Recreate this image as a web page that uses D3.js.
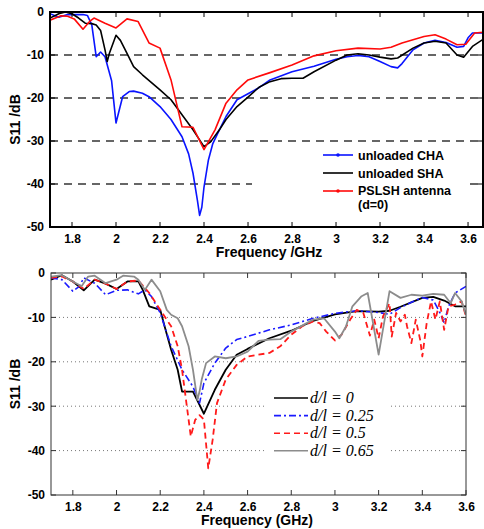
<!DOCTYPE html>
<html>
<head>
  <meta charset="utf-8">
  <script src="https://d3js.org/d3.v7.min.js"></script>
  <style>
    body { margin: 0; background: #fff; }
  </style>
</head>
<body>
<script>
// ---- top chart data (GHz, dB) ----
var chaFreq = [1.70,1.74,1.78,1.85,1.87,1.89,1.91,1.93,1.95,1.98,2.00,2.03,2.06,2.08,2.12,2.15,2.20,2.25,2.30,2.33,2.35,2.37,2.38,2.39,2.40,2.42,2.44,2.47,2.50,2.55,2.60,2.65,2.70,2.80,2.90,3.00,3.05,3.10,3.15,3.20,3.25,3.28,3.30,3.35,3.40,3.45,3.50,3.55,3.58,3.60,3.62,3.67];
var chaS11  = [-0.4,-1.2,-0.6,-0.6,-0.8,-3,-10.4,-9.3,-10.4,-16,-25.8,-19.7,-18.5,-18.4,-18.9,-19.7,-22,-25,-29,-33,-37.5,-43.8,-47.3,-45.4,-40.7,-34.4,-30.6,-27.4,-24.3,-20.4,-19,-17.6,-15.8,-13.9,-12.6,-11,-10.4,-10.1,-10.4,-11.5,-12.7,-13,-12,-8.8,-7.2,-6.6,-7.1,-8.2,-8,-6,-4.9,-4.9];

var shaFreq = [1.70,1.74,1.77,1.80,1.83,1.86,1.89,1.91,1.93,1.95,1.96,1.97,1.99,2.00,2.02,2.05,2.08,2.12,2.20,2.25,2.30,2.35,2.40,2.43,2.47,2.50,2.55,2.60,2.65,2.70,2.75,2.80,2.85,2.90,3.00,3.05,3.10,3.15,3.20,3.25,3.28,3.35,3.40,3.45,3.50,3.55,3.58,3.62,3.67];
var shaS11  = [-1.4,-0.4,0,-0.4,-1.4,-2.6,-2.7,-3,-4.3,-8.8,-11.5,-9.6,-6.8,-5.4,-6.6,-9.6,-12.7,-14.6,-18.1,-20.4,-23.9,-27.4,-31.3,-30.2,-27.4,-25,-22,-19.8,-17.5,-16.2,-15.5,-15.4,-15.4,-13.9,-11.2,-10,-9.7,-10,-10.5,-10.9,-10.7,-8.4,-7.2,-6.8,-7.2,-10,-10.5,-8,-6.3];

var pslFreq = [1.70,1.75,1.78,1.81,1.85,1.88,1.90,1.95,2.00,2.05,2.10,2.15,2.20,2.25,2.30,2.35,2.40,2.45,2.50,2.55,2.60,2.70,2.80,2.90,3.00,3.10,3.20,3.25,3.30,3.40,3.45,3.50,3.55,3.59,3.63,3.67];
var pslS11  = [-1.9,-0.9,-1,-1.6,-4,-2.2,-1.4,-2.6,-3.7,-1.6,-2.2,-7.2,-8.4,-15.8,-26.7,-26.8,-32,-27.4,-21.2,-18.1,-15.8,-14.1,-12.3,-10.2,-9,-8.4,-8.6,-8.2,-7.2,-5.7,-5.3,-6.3,-7.6,-7.5,-4.9,-4.7];

var topLegend = ["unloaded CHA", "unloaded SHA", "PSLSH antenna", "(d=0)"];

// ---- bottom chart data ----
var d0Freq = [1.70,1.75,1.80,1.85,1.90,1.95,2.00,2.05,2.10,2.12,2.15,2.20,2.22,2.25,2.28,2.30,2.35,2.40,2.45,2.50,2.55,2.60,2.70,2.80,2.90,3.00,3.10,3.20,3.25,3.30,3.40,3.45,3.50,3.55,3.60];
var d0S11  = [-1.5,-0.5,-1.9,-3.9,-1.5,-2.4,-3.6,-1.9,-1.9,-3.8,-7.5,-8.3,-12,-17.3,-21.8,-26.7,-26.7,-31.7,-26.3,-21.8,-18.4,-17.1,-14.7,-13,-10.8,-9.3,-8.6,-8.7,-8.5,-7.6,-5.6,-5.4,-6.2,-7.5,-7.5];

var d25Freq = [1.70,1.75,1.80,1.83,1.85,1.90,1.95,2.00,2.05,2.10,2.13,2.16,2.20,2.25,2.30,2.35,2.38,2.40,2.45,2.50,2.55,2.60,2.70,2.80,2.90,3.00,3.10,3.20,3.25,3.30,3.35,3.40,3.45,3.48,3.50,3.52,3.55,3.60];
var d25S11  = [-1.1,-1.5,-4.1,-3,-1.1,-2.3,-4.9,-3.9,-3.8,-4.7,-3.8,-5.3,-9,-16.5,-21.8,-25.6,-29.3,-24.8,-20.3,-16.9,-15,-14.3,-12.8,-11.7,-10.2,-9.1,-8.5,-8.9,-9.3,-7.8,-6.6,-5.5,-6.1,-8.9,-11.2,-7.5,-4.5,-3];

var d50Freq = [1.70,1.75,1.80,1.85,1.90,1.95,2.00,2.05,2.10,2.15,2.20,2.25,2.28,2.30,2.32,2.34,2.36,2.38,2.40,2.42,2.44,2.46,2.50,2.55,2.60,2.65,2.70,2.75,2.80,2.85,2.90,2.93,2.96,3.00,3.03,3.07,3.10,3.13,3.16,3.18,3.20,3.22,3.25,3.26,3.28,3.30,3.32,3.33,3.35,3.37,3.39,3.40,3.42,3.44,3.46,3.48,3.50,3.52,3.55,3.58,3.60];
var d50S11  = [-1.1,-0.8,-1.9,-3.6,-1.5,-2.4,-3.6,-1.9,-1.7,-4.5,-8.3,-12,-16.5,-21.8,-29.3,-36.8,-33.1,-32,-33,-44,-37.6,-29.3,-24,-20.7,-18.8,-18.4,-18,-16.5,-13.9,-12,-10.9,-11.3,-13.2,-15.2,-13.9,-10.5,-8.3,-9,-14.1,-10.5,-14.7,-9.8,-6.8,-14.3,-9,-10.9,-9.4,-12,-15.8,-10.5,-15,-18.8,-11.3,-6.4,-10.5,-6.4,-12.8,-7.5,-7.1,-6.4,-9.8];

var d65Freq = [1.70,1.75,1.80,1.84,1.87,1.90,1.95,2.00,2.03,2.08,2.10,2.13,2.16,2.20,2.23,2.25,2.28,2.30,2.33,2.35,2.37,2.38,2.39,2.41,2.45,2.50,2.55,2.60,2.65,2.70,2.75,2.80,2.90,2.95,3.00,3.02,3.05,3.08,3.12,3.15,3.20,3.25,3.30,3.35,3.40,3.45,3.50,3.53,3.55,3.58,3.60];
var d65S11  = [-0.8,-0.5,-1.9,-3,-0.8,-0.6,-2.3,-1.5,-0.6,-0.8,-1.5,-3.8,-1.5,-4.1,-8.3,-9.4,-10.2,-12,-16.5,-21.8,-28.6,-26.7,-24,-20.3,-18.8,-19.2,-18.8,-17.7,-15.3,-15,-14.9,-13.2,-10.5,-10.2,-13.2,-14.7,-12.1,-7.5,-5.3,-4.5,-18.4,-4.1,-5.6,-4.9,-5.1,-4.7,-4.9,-6.8,-4.5,-6.4,-9.4];

var bottomLegend = ["d/l = 0", "d/l = 0.25", "d/l = 0.5", "d/l = 0.65"];

var xTicks = [1.8, 2, 2.2, 2.4, 2.6, 2.8, 3, 3.2, 3.4, 3.6];
var yTicks = [0, -10, -20, -30, -40, -50];

var SANS = "Liberation Sans, Arial, sans-serif";

var svg = d3.select("body").append("svg")
  .attr("width", 484).attr("height", 529);

function drawPanel(opt) {
  var g = svg.append("g").attr("transform", "translate(" + opt.left + "," + opt.top + ")");
  var x = d3.scaleLinear().domain(opt.xDomain).range([0, opt.width]);
  var y = d3.scaleLinear().domain([-50, 0]).range([opt.height, 0]);
  var xt = xTicks.filter(function(t) { return t <= opt.xDomain[1]; });

  // grid lines
  g.selectAll(".grid").data([-10, -20, -30, -40]).enter().append("line")
    .attr("x1", 0).attr("x2", opt.width)
    .attr("y1", function(d) { return y(d); }).attr("y2", function(d) { return y(d); })
    .attr("stroke", opt.gridColor).attr("stroke-width", opt.gridWidth)
    .attr("stroke-dasharray", opt.gridDash);

  // tick labels via axes (plain hyphen minus like MATLAB)
  var xAxis = d3.axisBottom(x).tickValues(xt)
    .tickSize(0).tickPadding(7).tickFormat(function(d) { return String(d); });
  var yAxis = d3.axisLeft(y).tickValues(yTicks).tickSize(0).tickPadding(6)
    .tickFormat(function(d) { return String(d); });
  var ax = g.append("g").attr("transform", "translate(0," + opt.height + ")").call(xAxis);
  var ay = g.append("g").call(yAxis);
  [ax, ay].forEach(function(a) {
    a.select(".domain").remove();
    a.selectAll("text").attr("font-size", 12).attr("font-weight", "bold")
      .attr("font-family", SANS).attr("fill", "#000");
  });

  // lines
  var clipId = "clip" + opt.top;
  g.append("clipPath").attr("id", clipId).append("rect")
    .attr("width", opt.width).attr("height", opt.height);
  opt.series.forEach(function(s) {
    var pts = s.f.map(function(f, i) { return [f, s.v[i]]; });
    g.append("path").datum(pts)
      .attr("clip-path", "url(#" + clipId + ")")
      .attr("fill", "none").attr("stroke", s.color).attr("stroke-width", s.width)
      .attr("stroke-dasharray", s.dash || null)
      .attr("stroke-linejoin", "round")
      .attr("d", d3.line().x(function(d) { return x(d[0]); }).y(function(d) { return y(d[1]); }));
  });

  // frame + inner ticks
  g.append("rect").attr("width", opt.width).attr("height", opt.height)
    .attr("fill", "none").attr("stroke", opt.frameColor).attr("stroke-width", opt.frameWidth);
  var tk = 5;
  xt.forEach(function(t) {
    g.append("line").attr("x1", x(t)).attr("x2", x(t)).attr("y1", opt.height).attr("y2", opt.height - tk)
      .attr("stroke", opt.frameColor).attr("stroke-width", 1);
    g.append("line").attr("x1", x(t)).attr("x2", x(t)).attr("y1", 0).attr("y2", tk)
      .attr("stroke", opt.frameColor).attr("stroke-width", 1);
  });
  yTicks.forEach(function(t) {
    g.append("line").attr("x1", 0).attr("x2", tk).attr("y1", y(t)).attr("y2", y(t))
      .attr("stroke", opt.frameColor).attr("stroke-width", 1);
    g.append("line").attr("x1", opt.width).attr("x2", opt.width - tk).attr("y1", y(t)).attr("y2", y(t))
      .attr("stroke", opt.frameColor).attr("stroke-width", 1);
  });

  // axis titles
  g.append("text").attr("x", opt.xLabelX).attr("y", opt.height + 30)
    .attr("text-anchor", "middle").attr("font-size", 14).attr("font-weight", "bold")
    .attr("font-family", SANS).text(opt.xLabel);
  g.append("text").attr("transform", "translate(" + (-opt.left + 20) + "," + (opt.height / 2) + ") rotate(-90)")
    .attr("text-anchor", "middle").attr("font-size", 14).attr("font-weight", "bold")
    .attr("font-family", SANS).text("S11 /dB");

  return g;
}

// ---- top panel ----
var topG = drawPanel({
  left: 50, top: 12, width: 433, height: 215, xDomain: [1.7, 3.668],
  gridColor: "#666", gridWidth: 2, gridDash: "8,6",
  frameColor: "#000", frameWidth: 2,
  xLabel: "Frequency /GHz", xLabelX: 219,
  series: [
    { f: chaFreq, v: chaS11, color: "#0a14ff", width: 1.6 },
    { f: shaFreq, v: shaS11, color: "#000", width: 1.6 },
    { f: pslFreq, v: pslS11, color: "#ff0a0a", width: 1.6 }
  ]
});

// top legend
var tl = topG.append("g").attr("transform", "translate(202,135)");
tl.append("rect").attr("width", 216).attr("height", 68).attr("fill", "#fff");
var topLegColors = ["#0a14ff", "#000", "#ff0a0a"];
var topLegY = [8, 26, 44];
topLegColors.forEach(function(c, i) {
  tl.append("line").attr("x1", 71).attr("x2", 101).attr("y1", topLegY[i]).attr("y2", topLegY[i])
    .attr("stroke", c).attr("stroke-width", 1.6);
  if (i !== 1) tl.append("circle").attr("cx", 86).attr("cy", topLegY[i]).attr("r", 1.8).attr("fill", c);
});
topLegend.forEach(function(t, i) {
  tl.append("text").attr("x", 106).attr("y", [12.5, 30.5, 48, 61.5][i])
    .attr("font-size", 12.5).attr("font-weight", "bold").attr("font-family", SANS).text(t);
});

// ---- bottom panel ----
var botG = drawPanel({
  left: 51, top: 273, width: 415, height: 222, xDomain: [1.7, 3.6],
  gridColor: "#777", gridWidth: 1, gridDash: "1,3",
  frameColor: "#333", frameWidth: 1,
  xLabel: "Frequency (GHz)", xLabelX: 206,
  series: [
    { f: d0Freq, v: d0S11, color: "#000", width: 1.8 },
    { f: d25Freq, v: d25S11, color: "#1a1aff", width: 1.6, dash: "7,3,2,3" },
    { f: d50Freq, v: d50S11, color: "#ff1a1a", width: 1.8, dash: "6,4" },
    { f: d65Freq, v: d65S11, color: "#8c8c8c", width: 1.8 }
  ]
});

// bottom legend
var bl = botG.append("g").attr("transform", "translate(216,115)");
bl.append("rect").attr("width", 121).attr("height", 72).attr("fill", "#fff");
var botLegStyles = [
  { color: "#000", dash: null },
  { color: "#1a1aff", dash: "7,3,2,3" },
  { color: "#ff1a1a", dash: "6,4" },
  { color: "#8c8c8c", dash: null }
];
botLegStyles.forEach(function(s, i) {
  var yy = 10 + i * 17.6;
  bl.append("line").attr("x1", 7).attr("x2", 41).attr("y1", yy).attr("y2", yy)
    .attr("stroke", s.color).attr("stroke-width", 1.6).attr("stroke-dasharray", s.dash);
  bl.append("text").attr("x", 43).attr("y", yy + 5)
    .attr("font-family", "Liberation Serif, Times New Roman, serif")
    .attr("font-style", "italic").attr("font-size", 16).text(bottomLegend[i]);
});
</script>
</body>
</html>
